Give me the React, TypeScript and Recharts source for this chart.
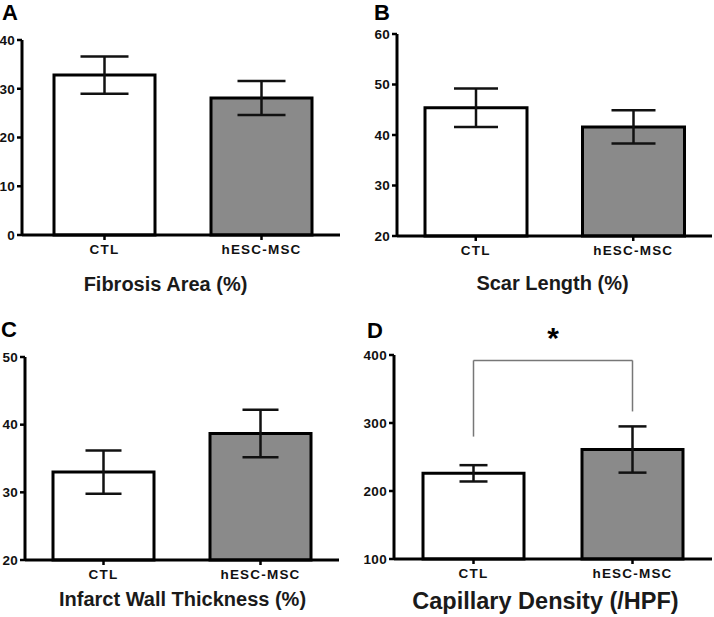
import { Bar, BarChart, Cell, ErrorBar, ReferenceLine, XAxis, YAxis } from 'recharts';

const categories = ['CTL', 'hESC-MSC'];
const barColors = ['#ffffff', '#8a8a8a'];

const fibrosisMean = [32.8, 28.1];
const fibrosisErr = [3.8, 3.5];
const fibrosisTicks = [0, 10, 20, 30, 40];

const scarMean = [45.4, 41.6];
const scarErr = [3.8, 3.3];
const scarTicks = [20, 30, 40, 50, 60];

const wallMean = [33.0, 38.7];
const wallErr = [3.2, 3.5];
const wallTicks = [20, 30, 40, 50];

const capMean = [226, 261];
const capErr = [12, 34];
const capTicks = [100, 200, 300, 400];
const bracketTop = 392;
const bracketEnds = [280, 317];

const FONT = '"Liberation Sans", Arial, sans-serif';

interface PanelProps {
    left: number;
    top: number;
    width: number;
    height: number;
    yWidth: number;
    marginRight: number;
    marginTop: number;
    xHeight: number;
    ticks: number[];
    means: number[];
    errs: number[];
    capWidth: number;
    barSize: number;
    padLeft?: number;
    children?: React.ReactNode;
}

function Panel(p: PanelProps) {
    const data = categories.map((c, i) => ({ name: c, value: p.means[i], err: p.errs[i] }));
    const axisLine = { stroke: '#000', strokeWidth: 3 };
    const tickLine = { stroke: '#000', strokeWidth: 2.5 };
    const tickText = {
        fill: '#111',
        fontSize: 13.5,
        fontWeight: 700,
        fontFamily: FONT,
        style: { fontSize: 13.5, fontWeight: 700, fontFamily: FONT },
    };
    return (
        <div style={{ position: 'absolute', left: p.left, top: p.top }}>
            <BarChart
                width={p.width}
                height={p.height}
                data={data}
                margin={{ top: p.marginTop, right: p.marginRight, left: 0, bottom: 0 }}
                style={{ fontFamily: FONT, fontWeight: 700 }}
            >
                <XAxis
                    dataKey="name"
                    height={p.xHeight}
                    axisLine={axisLine}
                    tickLine={tickLine}
                    tickSize={5}
                    tickMargin={4}
                    fontSize={13.5}
                    padding={{ left: p.padLeft ?? 0, right: 0 }}
                    tick={{ ...tickText, letterSpacing: 1.2 }}
                />
                <YAxis
                    width={p.yWidth}
                    domain={[p.ticks[0], p.ticks[p.ticks.length - 1]]}
                    ticks={p.ticks}
                    interval={0}
                    axisLine={axisLine}
                    tickLine={tickLine}
                    tickSize={5}
                    tickMargin={2}
                    fontSize={13.5}
                    tick={{ ...tickText, letterSpacing: 0.3 }}
                />
                <Bar dataKey="value" barSize={p.barSize} stroke="#000" strokeWidth={3} isAnimationActive={false}>
                    {data.map((d, i) => (
                        <Cell key={d.name} fill={barColors[i]} />
                    ))}
                    <ErrorBar dataKey="err" direction="y" width={p.capWidth} stroke="#111" strokeWidth={2.5} />
                </Bar>
                {p.children}
            </BarChart>
        </div>
    );
}

export default function App() {
    const letter = { fontFamily: FONT, fontWeight: 700, fontSize: 22, fill: '#000' } as const;
    const title = { fontFamily: FONT, fontWeight: 700, fontSize: 20, fill: '#1a1a1a', textAnchor: 'middle' } as const;
    return (
        <div style={{ position: 'absolute', left: 0, top: 0, width: 714, height: 617, background: '#fff' }}>
            <Panel left={0} top={0} width={357} height={300} yWidth={22} marginRight={17} marginTop={40}
                xHeight={65} ticks={fibrosisTicks} means={fibrosisMean} errs={fibrosisErr} capWidth={24}
                barSize={101} padLeft={4} />
            <Panel left={357} top={0} width={357} height={300} yWidth={40} marginRight={2} marginTop={34}
                xHeight={64} ticks={scarTicks} means={scarMean} errs={scarErr} capWidth={22} barSize={102} />
            <Panel left={0} top={300} width={357} height={317} yWidth={25} marginRight={18} marginTop={57}
                xHeight={57} ticks={wallTicks} means={wallMean} errs={wallErr} capWidth={18} barSize={101} />
            <Panel left={357} top={300} width={357} height={317} yWidth={37} marginRight={2} marginTop={55}
                xHeight={58} ticks={capTicks} means={capMean} errs={capErr} capWidth={14} barSize={101}>
                <ReferenceLine
                    segment={[{ x: categories[0], y: bracketTop }, { x: categories[1], y: bracketTop }]}
                    stroke="#777" strokeWidth={1.5}
                    label={{ value: '*', position: 'top', offset: 12, fontSize: 30, fontWeight: 700, fill: '#000', fontFamily: FONT }}
                />
                <ReferenceLine
                    segment={[{ x: categories[0], y: bracketEnds[0] }, { x: categories[0], y: bracketTop }]}
                    stroke="#777" strokeWidth={1.5}
                />
                <ReferenceLine
                    segment={[{ x: categories[1], y: bracketEnds[1] }, { x: categories[1], y: bracketTop }]}
                    stroke="#777" strokeWidth={1.5}
                />
            </Panel>
            <svg width={714} height={617} style={{ position: 'absolute', left: 0, top: 0, pointerEvents: 'none' }}>
                <text x={2} y={20} {...letter}>A</text>
                <text x={374} y={20} {...letter}>B</text>
                <text x={1} y={337} {...letter}>C</text>
                <text x={367} y={338} {...letter}>D</text>
                <text x={165.5} y={291} {...title}>Fibrosis Area (%)</text>
                <text x={552.5} y={290} {...title}>Scar Length (%)</text>
                <text x={182.5} y={606} {...title}>Infarct Wall Thickness (%)</text>
                <text x={545.5} y={609} {...title} fontSize={23.5}>Capillary Density (/HPF)</text>
            </svg>
        </div>
    );
}
